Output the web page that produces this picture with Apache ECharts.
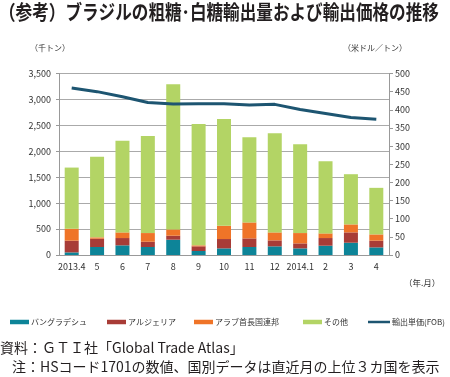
<!DOCTYPE html>
<html><head><meta charset="utf-8">
<script src="https://cdn.jsdelivr.net/npm/echarts@6/dist/echarts.min.js"></script>
<style>html,body{margin:0;padding:0;background:#fff}#c{width:450px;height:377px}</style>
</head><body><div id="c"></div>
<script>
const categories = ['2013.4','5','6','7','8','9','10','11','12','2014.1','2','3','4'];
const bangladesh = [50,154,186,154,295,77,128,154,167,128,179,237,147];
const algeria = [226,160,141,102,77,90,180,166,115,96,148,199,129];
const uae = [230,26,109,167,122,19,256,308,154,199,90,154,121];
const others = [1180,1557,1769,1872,2801,2340,2058,1641,1910,1712,1391,968,898];
const price = [460,450,436,420,416,417,417,413,415,401,390,379,374];
const leftTicks = [0,500,1000,1500,2000,2500,3000,3500];
const rightTicks = [0,50,100,150,200,250,300,350,400,450,500];

const FONT = '"Noto Sans CJK JP", "Noto Sans", sans-serif';
const chart = echarts.init(document.getElementById('c'));
const barBase = {type:'bar', stack:'v', barWidth:14, yAxisIndex:0};
const names = ['バングラデシュ','アルジェリア','アラブ首長国連邦','その他','輸出単価(FOB)'];
const legendLeft = [10,107,194,303,368];
const legends = names.map((n,i)=>({
  top:318, left:legendLeft[i], itemWidth:(i===4?22:19), itemHeight:(i===4?2.5:4.5), itemGap:0,
  padding:0, textStyle:{fontSize:8, color:'#333', fontFamily:FONT, padding:[0,0,0,-3]},
  data:[{name:n, icon:'rect'}]
}));
chart.setOption({
  animation:false,
  textStyle:{fontFamily:FONT},
  grid:{left:59, right:61, top:73.5, bottom:122},
  legend:legends,
  xAxis:{type:'category', data:categories, boundaryGap:true,
    axisLine:{lineStyle:{color:'#999'}},
    axisTick:{alignWithLabel:false, length:5, lineStyle:{color:'#999'}},
    axisLabel:{fontSize:9, color:'#333', margin:7, interval:0}},
  yAxis:[
    {type:'value', min:0, max:3500, interval:500,
     axisLine:{show:true, lineStyle:{color:'#999'}},
     axisTick:{show:true, length:3, lineStyle:{color:'#999'}},
     axisLabel:{fontSize:9, color:'#333', margin:8, formatter:v=>v.toLocaleString('en-US')},
     splitLine:{lineStyle:{color:'#aaa', width:1}}},
    {type:'value', min:0, max:500, interval:50,
     axisLine:{show:true, lineStyle:{color:'#999'}},
     axisTick:{show:true, length:4, lineStyle:{color:'#999'}},
     axisLabel:{fontSize:9, color:'#333', margin:6},
     splitLine:{show:false}}
  ],
  series:[
    Object.assign({name:names[0], data:bangladesh, itemStyle:{color:'#0d8498'}}, barBase),
    Object.assign({name:names[1], data:algeria, itemStyle:{color:'#a83c37'}}, barBase),
    Object.assign({name:names[2], data:uae, itemStyle:{color:'#ef7428'}}, barBase),
    Object.assign({name:names[3], data:others, itemStyle:{color:'#b3d465'}}, barBase),
    {name:names[4], type:'line', yAxisIndex:1, data:price, symbol:'none',
     lineStyle:{color:'#1d5571', width:3}, itemStyle:{color:'#1d5571'}}
  ],
  graphic:[
    {type:'text', x:-1, y:2, scaleX:0.83, scaleY:1, style:{text:'（参考）ブラジルの粗糖･白糖輸出量および輸出価格の推移', fontSize:20, fontWeight:'bold', fill:'#231f20', fontFamily:FONT}},
    {type:'text', left:30, top:44, style:{text:'（千トン）', fontSize:8, fill:'#333', fontFamily:FONT}},
    {type:'text', left:343, top:44, style:{text:'（米ドル／トン）', fontSize:8, fill:'#333', fontFamily:FONT}},
    {type:'text', left:404, top:279, style:{text:'（年.月）', fontSize:8.5, fill:'#333', fontFamily:FONT}},
    {type:'text', left:0, top:341, style:{text:'資料：ＧＴＩ社「Global Trade Atlas」', fontSize:14, fill:'#231f20', fontFamily:FONT}},
    {type:'text', left:12, top:360, style:{text:'注：HSコード1701の数値、国別データは直近月の上位３カ国を表示', fontSize:14, fill:'#231f20', fontFamily:FONT}}
  ]
});
</script></body></html>
